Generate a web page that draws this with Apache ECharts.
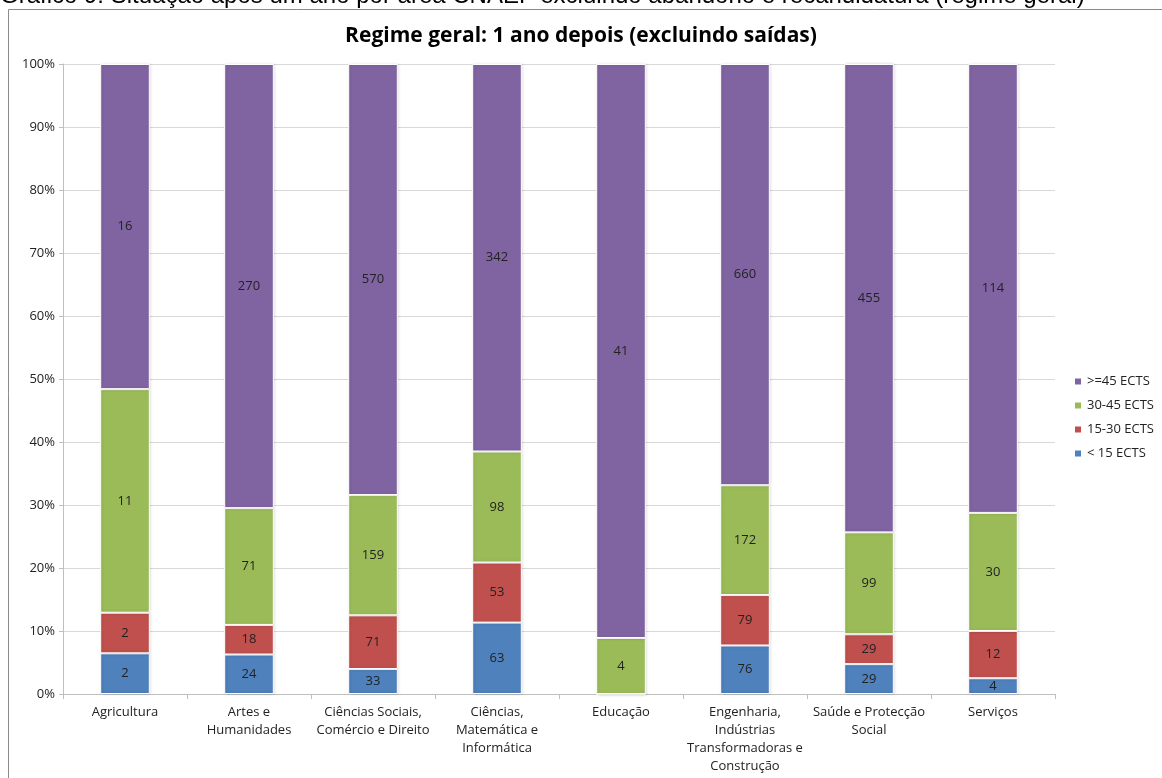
<!DOCTYPE html>
<html>
<head>
<meta charset="utf-8">
<style>
  html, body { margin: 0; padding: 0; background: #fff; }
  #chart { width: 1162px; height: 778px; }
</style>
<script src="https://cdn.jsdelivr.net/npm/echarts@6/dist/echarts.min.js"></script>
</head>
<body>
<div id="chart"></div>
<script>
const categories = [
  "Agricultura",
  "Artes e\nHumanidades",
  "Ciências Sociais,\nComércio e Direito",
  "Ciências,\nMatemática e\nInformática",
  "Educação",
  "Engenharia,\nIndústrias\nTransformadoras e\nConstrução",
  "Saúde e Protecção\nSocial",
  "Serviços"
];
const below15 = [2, 24, 33, 63, 0, 76, 29, 4];
const from15to30 = [2, 18, 71, 53, 0, 79, 29, 12];
const from30to45 = [11, 71, 159, 98, 4, 172, 99, 30];
const above45 = [16, 270, 570, 342, 41, 660, 455, 114];
const yTicks = [0, 10, 20, 30, 40, 50, 60, 70, 80, 90, 100];

const totals = categories.map((c, i) => below15[i] + from15to30[i] + from30to45[i] + above45[i]);

const font = "'Open Sans', 'Noto Sans', sans-serif";

// 100% stacked: the bar height is the share, the label is the count
function makeSeries(name, counts, color) {
  return {
    name: name,
    type: "bar",
    stack: "total",
    barWidth: "40%",
    data: counts.map((v, i) => ({ value: v / totals[i] * 100, count: v })),
    itemStyle: {
      color: color,
      borderColor: "#fff",
      borderWidth: 1,
      shadowColor: "rgba(0,0,0,0.15)",
      shadowBlur: 3,
      shadowOffsetX: 1
    },
    label: {
      show: true,
      position: "inside",
      color: "#222",
      fontFamily: font,
      fontSize: 13,
      formatter(p) {
        return p.data.count > 0 ? String(p.data.count) : "";
      }
    }
  };
}

const chart = echarts.init(document.getElementById("chart"));
chart.setOption({
  animation: false,
  title: {
    text: "Regime geral: 1 ano depois (excluindo saídas)",
    left: "center",
    top: 21,
    textStyle: { fontFamily: font, fontWeight: "bold", fontSize: 21, color: "#000" }
  },
  graphic: [
    {
      type: "text",
      left: 0,
      top: -16,
      style: {
        text: "Gráfico 9: Situação após um ano por área CNAEF excluindo abandono e recandidatura (regime geral)",
        font: "24px 'Liberation Sans', Arial, sans-serif",
        fill: "#000"
      }
    },
    {
      type: "polyline",
      shape: { points: [[8.5, 778], [8.5, 9.5], [1162, 9.5]] },
      style: { stroke: "#8a8a8a", lineWidth: 1, fill: null }
    }
  ],
  legend: {
    orient: "vertical",
    left: 1068,
    top: 370,
    itemWidth: 8,
    itemHeight: 8,
    itemGap: 11,
    icon: "rect",
    textStyle: { fontFamily: font, fontSize: 13, color: "#222" },
    data: [">=45 ECTS", "30-45 ECTS", "15-30 ECTS", "< 15 ECTS"]
  },
  grid: { left: 63, right: 107, top: 64, bottom: 84 },
  xAxis: {
    type: "category",
    data: categories,
    axisLine: { lineStyle: { color: "#bfbfbf" } },
    axisTick: { show: true, length: 5, lineStyle: { color: "#bfbfbf" } },
    axisLabel: {
      interval: 0,
      color: "#222",
      fontFamily: font,
      fontSize: 13,
      lineHeight: 18,
      margin: 9
    }
  },
  yAxis: {
    type: "value",
    min: 0,
    max: 100,
    interval: 10,
    axisLine: { show: true, lineStyle: { color: "#bfbfbf" } },
    axisTick: { show: true, length: 4, lineStyle: { color: "#bfbfbf" } },
    splitLine: { lineStyle: { color: "#d9d9d9" } },
    axisLabel: {
      color: "#222",
      fontFamily: font,
      fontSize: 13,
      margin: 8,
      formatter(v) {
        return yTicks.includes(v) ? v + "%" : "";
      }
    }
  },
  series: [
    makeSeries("< 15 ECTS", below15, "#4f81bd"),
    makeSeries("15-30 ECTS", from15to30, "#c0504d"),
    makeSeries("30-45 ECTS", from30to45, "#9bbb59"),
    makeSeries(">=45 ECTS", above45, "#8064a2")
  ]
});
</script>
</body>
</html>
